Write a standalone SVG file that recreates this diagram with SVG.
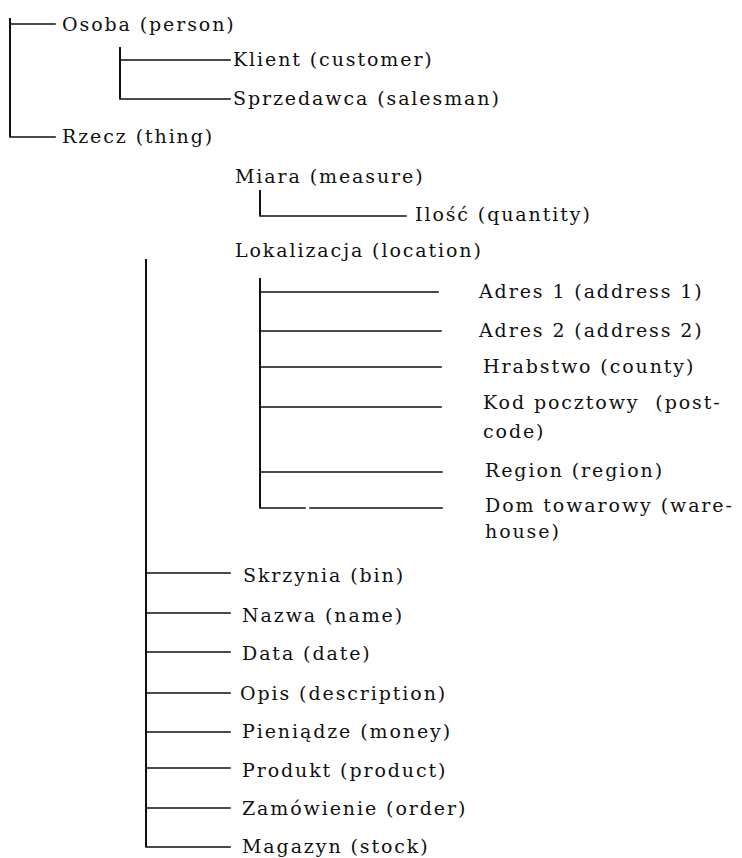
<svg xmlns="http://www.w3.org/2000/svg" width="742" height="858" viewBox="0 0 742 858">
<style>
.l{stroke:#111;stroke-width:1.6;fill:none;stroke-linecap:square}
.v{stroke:#111;stroke-width:2;fill:none}
text{font-family:"DejaVu Serif","Liberation Serif",serif;font-size:19px;letter-spacing:1.9px;fill:#111;white-space:pre}
</style>
<rect width="742" height="858" fill="#fff"/>
<g id="connectors">
<path class="v" d="M10 18V137M120 47V99M260 190V216M260 278V508M146 259V847"/>
<path class="l" d="M10 24H55M10 137H55M120 60H230M120 99H230M260 216H406M260 292H438M260 331H441M260 367H441M260 407H441M260 472H442M260 508H305M310 508H442M146 573H230M146 613H230M146 652H230M146 693H230M146 732H230M146 768H230M146 808H230M146 847H230"/>
</g>
<g id="osoba"><text x="62" y="31">Osoba (person)</text></g>
<g id="klient"><text x="233" y="66">Klient (customer)</text></g>
<g id="sprzedawca"><text x="233" y="105">Sprzedawca (salesman)</text></g>
<g id="rzecz"><text x="62" y="143">Rzecz (thing)</text></g>
<g id="miara"><text x="235" y="183">Miara (measure)</text></g>
<g id="ilosc"><text x="415" y="221">Ilość (quantity)</text></g>
<g id="lokalizacja"><text x="235" y="257">Lokalizacja (location)</text></g>
<g id="adres1"><text x="479" y="298">Adres 1 (address 1)</text></g>
<g id="adres2"><text x="479" y="337">Adres 2 (address 2)</text></g>
<g id="hrabstwo"><text x="483" y="373">Hrabstwo (county)</text></g>
<g id="kod"><text x="483" y="409">Kod pocztowy  (post-</text><text x="483" y="438">code)</text></g>
<g id="region"><text x="485" y="477">Region (region)</text></g>
<g id="dom"><text x="485" y="512">Dom towarowy (ware-</text><text x="485" y="538">house)</text></g>
<g id="skrzynia"><text x="243" y="582">Skrzynia (bin)</text></g>
<g id="nazwa"><text x="242" y="622">Nazwa (name)</text></g>
<g id="data"><text x="242" y="660">Data (date)</text></g>
<g id="opis"><text x="240" y="700">Opis (description)</text></g>
<g id="pieniadze"><text x="242" y="738">Pieniądze (money)</text></g>
<g id="produkt"><text x="242" y="777">Produkt (product)</text></g>
<g id="zamowienie"><text x="242" y="815">Zamówienie (order)</text></g>
<g id="magazyn"><text x="242" y="853">Magazyn (stock)</text></g>
</svg>
